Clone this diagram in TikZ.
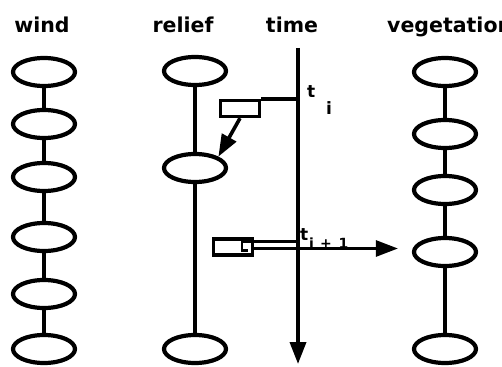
\documentclass[tikz,border=0pt]{standalone}
\usepackage{fontspec}
\setmainfont{DejaVu Sans}
\usetikzlibrary{arrows.meta, shapes.geometric, positioning}

\begin{document}
\begin{tikzpicture}[x=1pt, y=-1pt,
    cell/.style={ellipse, draw, line width=4.2pt, minimum width=62pt, minimum height=28pt, inner sep=0pt},
    link/.style={line width=3.6pt},
    head/.style={line width=3.6pt, -{Triangle[length=22pt,width=16pt]}},
    title/.style={font=\bfseries\fontsize{20.5}{24}\selectfont, anchor=base, inner sep=0pt},
    tlabel/.style={font=\bfseries\fontsize{17}{20}\selectfont, anchor=base west, inner sep=0pt},
    stampbox/.style={draw, line width=3.4pt, minimum width=39pt, minimum height=16pt, inner sep=0pt}]
    \useasboundingbox (0,0) rectangle (502,366);

    % headings
    \node[title] (hwind) at (42,33) {wind};
    \node[title] (hrelief) at (183,33) {relief};
    \node[title] (htime) at (292,33) {time};
    \node[title, anchor=base west] (hveg) at (387,33) {vegetation};

    % wind
    \foreach \i/\y in {1/72,2/124,3/177,4/237,5/294,6/349}
        \node[cell] (wind\i) at (44,\y) {};
    \foreach \i in {1,...,5}{
        \pgfmathtruncatemacro\j{\i+1}
        \draw[link] (wind\i) -- (wind\j);
    }

    % relief
    \foreach \i/\y in {1/71,2/168,3/349}
        \node[cell] (relief\i) at (195,\y) {};
    \draw[link] (relief1) -- (relief2);
    \draw[link] (relief2) -- (relief3);

    % vegetation
    \foreach \i/\y in {1/72,2/134,3/190,4/252,5/349}
        \node[cell] (veg\i) at (445,\y) {};
    \foreach \i in {1,...,4}{
        \pgfmathtruncatemacro\j{\i+1}
        \draw[link] (veg\i) -- (veg\j);
    }

    % time axis
    \coordinate (ttop) at (298,48);
    \coordinate (tend) at (298,364);
    \draw[head] (ttop) -- (tend);

    % step t_i
    \node[stampbox] (box1) at (240,108.5) {};
    \draw[link] (box1.north east) -- (box1.north east -| ttop);
    \draw[head] (box1.south) -- (relief2.north east);
    \node[tlabel] (lti) at (307,98) {t};
    \node[tlabel] (lsubi) at (326,115) {i};

    % step t_{i+1}: double line out of the box
    \node[stampbox] (box2) at (233,247) {};
    \coordinate (tnext) at (298,241.5);
    \draw[line width=2.6pt] (tnext) -- ++(-56,0) -- ++(0,9) -- ++(6,0);
    \draw[head, line width=2.8pt, shorten >=14pt] ([yshift=-1.5pt]box2.east) -- ([yshift=-1.5pt]box2.east -| veg4.west);
    \node[tlabel] (ltn) at (300,240) {t};
    \node[tlabel, font=\bfseries\fontsize{14}{16}\selectfont] (lsubn) at (309,248) {i\hspace{6pt}+\hspace{7pt}1};
\end{tikzpicture}
\end{document}
